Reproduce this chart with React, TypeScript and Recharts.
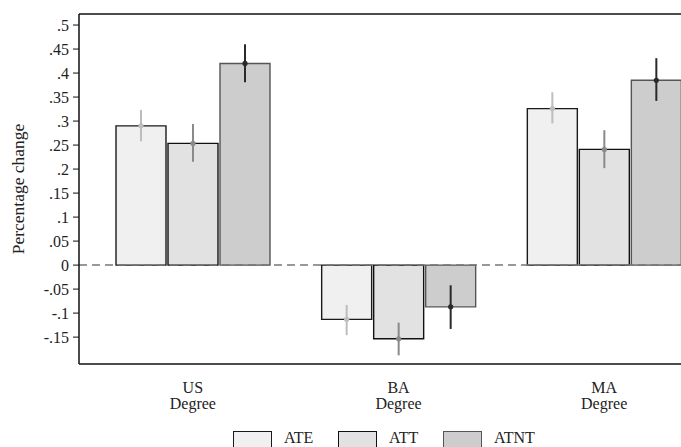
import {
  BarChart,
  Bar,
  XAxis,
  YAxis,
  ErrorBar,
  ReferenceLine,
  Legend,
  LabelList,
} from 'recharts'

const categories = ['US', 'BA', 'MA']
const subLabel = 'Degree'

const ate = [0.29, -0.113, 0.326]
const ateLo = [0.258, -0.146, 0.295]
const ateHi = [0.323, -0.083, 0.36]

const att = [0.2535, -0.1535, 0.241]
const attLo = [0.215, -0.188, 0.202]
const attHi = [0.294, -0.12, 0.281]

const atnt = [0.42, -0.087, 0.385]
const atntLo = [0.381, -0.133, 0.342]
const atntHi = [0.46, -0.042, 0.431]

const yTicks = [-0.15, -0.1, -0.05, 0, 0.05, 0.1, 0.15, 0.2, 0.25, 0.3, 0.35, 0.4, 0.45, 0.5]
const Y_MIN = -0.206
const Y_MAX = 0.523

const FONT = '"Liberation Serif", "DejaVu Serif", serif'

const series = [
  { key: 'ate', name: 'ATE', fill: '#f0f0f0', stroke: '#1a1a1a', err: '#bdbdbd' },
  { key: 'att', name: 'ATT', fill: '#e2e2e2', stroke: '#111111', err: '#8a8a8a' },
  { key: 'atnt', name: 'ATNT', fill: '#cdcdcd', stroke: '#555555', err: '#2a2a2a' },
]

const data = categories.map((c, i) => ({
  cat: c,
  ate: ate[i],
  ateErr: [ate[i] - ateLo[i], ateHi[i] - ate[i]],
  att: att[i],
  attErr: [att[i] - attLo[i], attHi[i] - att[i]],
  atnt: atnt[i],
  atntErr: [atnt[i] - atntLo[i], atntHi[i] - atnt[i]],
}))

const fmt = (v: number) => {
  const s = String(Math.round(v * 100) / 100)
  return s.replace(/^(-?)0\./, '$1.')
}

function CatTick({ x, y, payload }: any) {
  return (
    <text x={x} y={y} textAnchor="middle" fontFamily={FONT} fontSize={16} fill="#222">
      <tspan x={x} dy={29}>{payload.value}</tspan>
      <tspan x={x} dy={16}>{subLabel}</tspan>
    </text>
  )
}

function makeDot(color: string) {
  return (props: any) => {
    const { x, y, width, height, value } = props
    const top = Math.min(y, y + height)
    const bottom = Math.max(y, y + height)
    const cy = value >= 0 ? top : bottom
    return <circle cx={x + width / 2} cy={cy} r={2.6} fill={color} />
  }
}

function LegendBox() {
  return (
    <div style={{ display: 'flex', fontFamily: FONT, fontSize: 16, color: '#222' }}>
      {series.map((s) => (
        <div key={s.key} style={{ display: 'flex', alignItems: 'flex-start', width: 105 }}>
          <div
            style={{
              width: 37,
              height: 18,
              background: s.fill,
              border: `1px solid ${s.stroke}`,
              marginRight: 12,
            }}
          />
          <span style={{ lineHeight: '14px', display: 'block' }}>{s.name}</span>
        </div>
      ))}
    </div>
  )
}

export default function App() {
  return (
    <div
      style={{
        position: 'absolute',
        left: 0,
        top: 0,
        width: 681,
        height: 447,
        overflow: 'hidden',
        background: '#fff',
      }}
    >
      <BarChart
        width={707}
        height={447}
        data={data}
        margin={{ top: 14, right: 0, bottom: 0, left: 0 }}
        barSize={50}
        barGap={2}
      >
        <XAxis
          dataKey="cat"
          height={83}
          padding={{ left: 11, right: 0 }}
          axisLine={{ stroke: '#111', strokeWidth: 1.5 }}
          tickLine={false}
          tickSize={0}
          tickMargin={0}
          tick={<CatTick />}
          interval={0}
        />
        <YAxis
          width={79}
          domain={[Y_MIN, Y_MAX]}
          allowDataOverflow
          ticks={yTicks}
          tickFormatter={fmt}
          axisLine={{ stroke: '#111', strokeWidth: 1.5 }}
          tickLine={{ stroke: '#111' }}
          tickSize={6}
          tickMargin={4}
          tick={{ fontFamily: FONT, fontSize: 16, fill: '#222' }}
          label={{
            content: () => (
              <text
                x={18}
                y={189}
                transform="rotate(-90 18 189)"
                textAnchor="middle"
                dominantBaseline="central"
                fontFamily={FONT}
                fontSize={17.5}
                fill="#222"
              >
                Percentage change
              </text>
            ),
          }}
        />
        <ReferenceLine y={Y_MAX} stroke="#111" strokeWidth={1.5} />
        <ReferenceLine y={0} stroke="#777" strokeWidth={1.5} strokeDasharray="8 5" />
        <Legend
          verticalAlign="middle"
          align="center"
          layout="horizontal"
          wrapperStyle={{ left: 233, top: 431, width: 330, height: 16 }}
          content={() => <LegendBox />}
        />
        {series.map((s) => (
          <Bar
            key={s.key}
            dataKey={s.key}
            name={s.name}
            fill={s.fill}
            stroke={s.stroke}
            strokeWidth={1.4}
            isAnimationActive={false}
          >
            <ErrorBar dataKey={`${s.key}Err`} width={0} stroke={s.err} strokeWidth={2} />
            <LabelList dataKey={s.key} content={makeDot(s.err)} />
          </Bar>
        ))}
      </BarChart>
    </div>
  )
}
